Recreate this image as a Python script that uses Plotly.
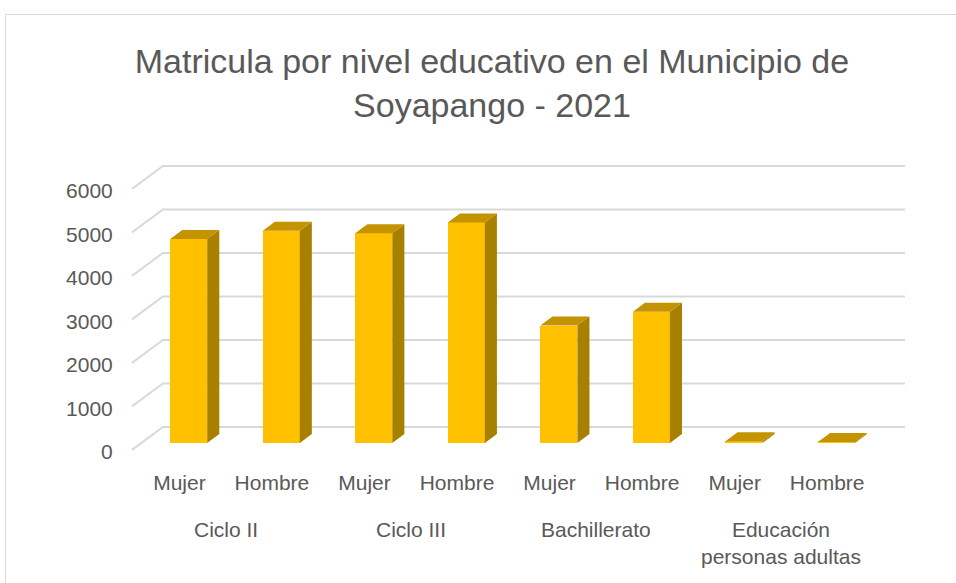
import plotly.graph_objects as go

# ---------------- data ----------------
groups = ["Ciclo II", "Ciclo III", "Bachillerato", "Educación<br>personas adultas"]
sex_labels = ["Mujer", "Hombre", "Mujer", "Hombre", "Mujer", "Hombre", "Mujer", "Hombre"]
values = [4690, 4880, 4820, 5070, 2700, 3020, 40, 25]
y_ticks = [0, 1000, 2000, 3000, 4000, 5000, 6000]
title_text = "Matricula por nivel educativo en el Municipio de<br>Soyapango - 2021"

# ---------------- geometry / style ----------------
W, H = 956, 583
PX_X = 92.54      # px per category
PX_Y = 0.0435     # px per value unit
X0_PX = 188.7     # px of first bar front face centre
Y0_PX = 443.0     # px of bar base
x_range = [-X0_PX / PX_X, (W - X0_PX) / PX_X]
y_range = [-(H - Y0_PX) / PX_Y, Y0_PX / PX_Y]

DX = 31 / PX_X    # full floor depth, x component (data units)
DY = 23 / PX_Y    # full floor depth, y component (data units)
FB = 0.30         # depth of bar front faces
BD = 0.39         # bar depth
BW = 0.40         # bar width
WALL_LEFT = -0.613
WALL_RIGHT = 7.74
LABEL_NUDGE = 2 / PX_Y

FRONT = "#FFC000"
SIDE = "#A88000"
TOP = "#C49300"
GRID = "#D9D9D9"
TXT = "#595959"
FONT = "Liberation Sans"

n = len(values)
xs = list(range(n))

fig = go.Figure()

# front faces
fig.add_trace(go.Bar(x=xs, y=values, width=BW, marker=dict(color=FRONT, line=dict(width=0)),
                     hoverinfo="skip", showlegend=False))

# side faces
sx, sy = [], []
for i, v in zip(xs, values):
    r = i + BW / 2
    sx += [r, r + BD * DX, r + BD * DX, r, r, None]
    sy += [0, BD * DY, v + BD * DY, v, 0, None]
fig.add_trace(go.Scatter(x=sx, y=sy, mode="lines", fill="toself", fillcolor=SIDE,
                         line=dict(width=0, color=SIDE), hoverinfo="skip", showlegend=False))

# top faces
tx, ty = [], []
for i, v in zip(xs, values):
    l, r = i - BW / 2, i + BW / 2
    tx += [l, r, r + BD * DX, l + BD * DX, l, None]
    ty += [v, v, v + BD * DY, v + BD * DY, v, None]
fig.add_trace(go.Scatter(x=tx, y=ty, mode="lines", fill="toself", fillcolor=TOP,
                         line=dict(width=0, color=TOP), hoverinfo="skip", showlegend=False))

# gridlines (floor diagonal + back wall)
shapes = []
for v in y_ticks:
    yf = v - FB * DY
    yb = v + (1 - FB) * DY
    xf = WALL_LEFT
    xb = WALL_LEFT + DX
    shapes.append(dict(type="path", xref="x", yref="y", layer="below",
                       path=f"M {xf},{yf} L {xb},{yb} L {WALL_RIGHT},{yb}",
                       line=dict(color=GRID, width=2)))
# chart frame
shapes.append(dict(type="rect", xref="paper", yref="paper", x0=5.5 / W, x1=1.02,
                   y0=-0.02, y1=1 - 14.5 / H, line=dict(color=GRID, width=1), layer="below"))

annotations = []
for g, name in enumerate(groups):
    annotations.append(dict(x=2 * g + 0.5 - FB * DX, xref="x", y=1 - 516 / H, yref="paper",
                            text=name, showarrow=False, xanchor="center", yanchor="top",
                            font=dict(family=FONT, size=21, color=TXT)))

fig.update_layout(
    width=W, height=H, margin=dict(l=0, r=0, t=0, b=0),
    paper_bgcolor="white", plot_bgcolor="white",
    shapes=shapes, annotations=annotations, showlegend=False,
    title=dict(text=title_text, x=492 / W, xanchor="center", y=1 - 73 / H, yanchor="top",
               font=dict(family=FONT, size=34, color=TXT)),
    xaxis=dict(range=x_range, anchor="free", position=1 - 468 / H, showgrid=False,
               zeroline=False, showline=False, ticks="",
               tickvals=[i - FB * DX for i in xs], ticktext=sex_labels,
               tickfont=dict(family=FONT, size=21, color=TXT), fixedrange=True),
    yaxis=dict(range=y_range, anchor="free", position=0.118, showgrid=False,
               zeroline=False, showline=False, ticks="",
               tickvals=[v - FB * DY - LABEL_NUDGE for v in y_ticks],
               ticktext=[str(v) for v in y_ticks],
               tickfont=dict(family=FONT, size=21, color=TXT), fixedrange=True),
    bargap=0,
)

fig.write_html("out.html", config={"displayModeBar": False},
               post_script="document.body.style.margin='0';document.body.style.overflow='hidden';")
